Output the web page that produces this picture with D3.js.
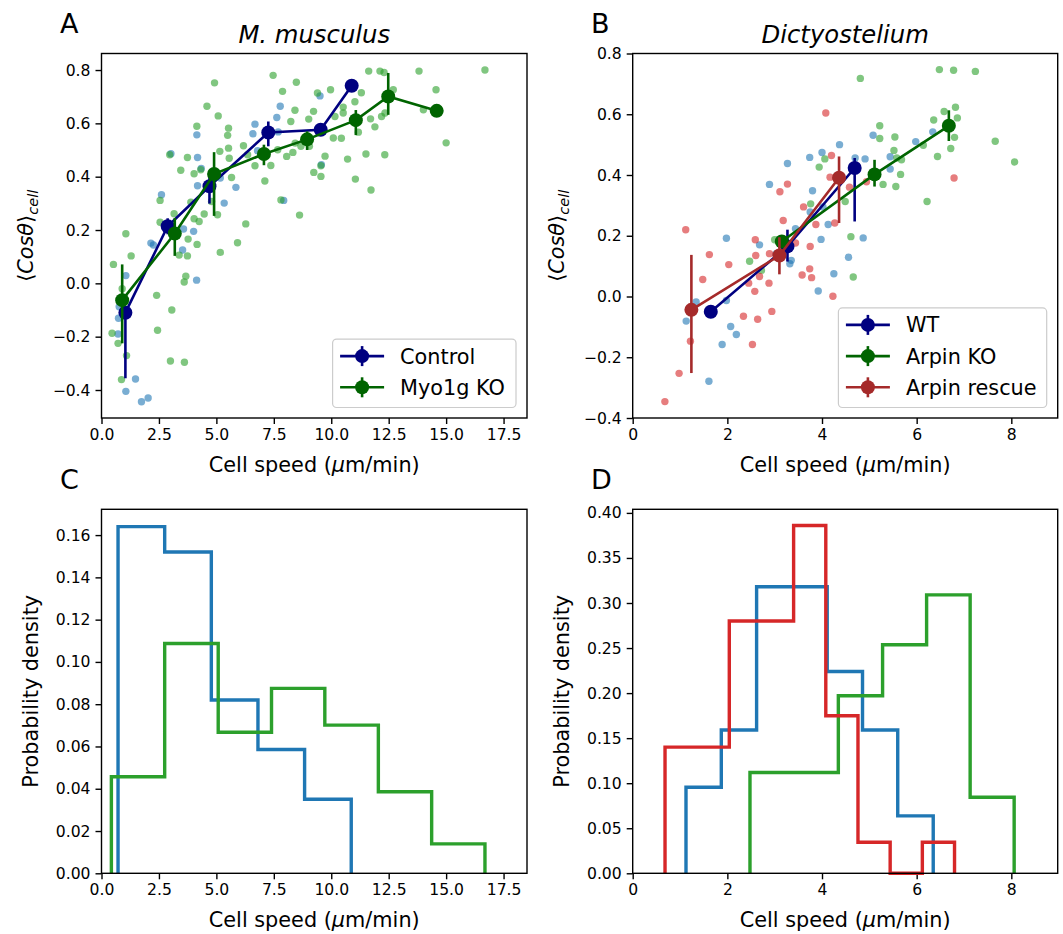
<!DOCTYPE html>
<html>
<head>
<meta charset="utf-8">
<script src="https://cdn.jsdelivr.net/npm/d3@7"></script>
<style>
  body { margin: 0; background: #fff; }
  text { font-family: "DejaVu Sans", sans-serif; fill: #000; }
</style>
</head>
<body>
<div id="fig"></div>
<script>
// ---- Panel A: M. musculus, single cells (speed, <cos theta>)
const controlCells = [
  [7.78,0.664],[7.63,0.622],[6.68,0.597],[6.59,0.561],[4.15,0.557],[3.02,0.486],[4.18,0.472],
  [4.34,0.431],[5.17,0.395],[4.18,0.366],[5.85,0.360],[2.61,0.332],[5.34,0.301],[7.93,0.311],
  [6.79,0.497],[3.57,0.204],[4.01,0.195],[2.15,0.151],[2.26,0.144],[3.53,0.125],[4.14,0.012],
  [1.06,0.029],[0.77,-0.088],[0.74,-0.131],[0.72,-0.190],[1.48,-0.359],[1.06,-0.405],
  [1.74,-0.444],[2.03,-0.430],[9.51,0.703],[9.57,0.445],[7.69,0.568]
];
const myo1gCells = [
  [7.47,0.780],[8.48,0.754],[4.92,0.752],[7.88,0.720],[4.59,0.664],[8.42,0.649],[5.08,0.628],
  [9.40,0.714],[4.15,0.589],[5.53,0.582],[5.49,0.555],[8.24,0.607],[9.02,0.616],[9.23,0.645],
  [6.18,0.516],[5.53,0.507],[5.15,0.495],[2.97,0.482],[3.74,0.472],[5.56,0.469],[6.36,0.482],
  [6.68,0.441],[7.37,0.442],[8.06,0.476],[8.33,0.491],[8.68,0.514],[8.43,0.526],[7.67,0.501],
  [9.24,0.416],[3.45,0.424],[4.03,0.411],[4.32,0.426],[5.66,0.397],[7.11,0.384],[2.55,0.311],
  [3.89,0.304],[4.79,0.307],[7.81,0.313],[5.05,0.257],[4.47,0.260],[4.03,0.242],[4.25,0.232],
  [3.16,0.261],[2.55,0.229],[6.28,0.223],[8.62,0.256],[1.06,0.186],[3.77,0.166],
  [11.63,0.796],[12.12,0.796],[12.30,0.791],[13.82,0.796],[16.69,0.800],[9.97,0.726],
  [11.31,0.715],[12.70,0.726],[14.56,0.726],[11.03,0.681],[10.52,0.661],[10.52,0.639],
  [10.16,0.626],[12.19,0.626],[11.71,0.617],[12.34,0.639],[11.90,0.587],[14.01,0.651],
  [10.09,0.545],[10.44,0.544],[11.18,0.567],[9.05,0.514],[15.00,0.527],[9.73,0.477],
  [11.51,0.485],[12.33,0.482],[10.71,0.466],[9.55,0.441],[9.55,0.401],[11.05,0.391],
  [11.73,0.350],[5.92,0.152],[5.17,0.116],[4.16,0.146],[3.38,0.106],[3.74,0.103],[1.29,0.103],
  [0.52,0.071],[3.67,0.027],[3.60,0.005],[2.40,-0.045],[3.06,-0.100],[0.90,-0.020],
  [0.46,-0.187],[0.72,-0.225],[2.44,-0.176],[1.09,-0.271],[3.00,-0.291],[3.61,-0.296],
  [0.87,-0.361]
];
// binned means with lower / upper error
const controlMeanSpeed = [1.04, 2.88, 4.70, 7.26, 9.54, 10.89];
const controlMeanCos   = [-0.110, 0.214, 0.364, 0.566, 0.576, 0.741];
const controlErrLo     = [0.246, 0.030, 0.065, 0.052, 0.020, 0.000];
const controlErrHi     = [0.020, 0.030, 0.050, 0.041, 0.020, 0.000];
const myo1gMeanSpeed = [0.90, 3.19, 4.90, 7.07, 8.95, 11.07, 12.48, 14.59];
const myo1gMeanCos   = [-0.063, 0.187, 0.410, 0.485, 0.540, 0.612, 0.701, 0.647];
const myo1gErrLo     = [0.162, 0.084, 0.157, 0.042, 0.040, 0.056, 0.069, 0.000];
const myo1gErrHi     = [0.134, 0.058, 0.082, 0.035, 0.030, 0.038, 0.088, 0.000];

// ---- Panel B: Dictyostelium
const wtCells = [
  [4.37,0.500],[3.74,0.458],[4.00,0.474],[3.27,0.438],[2.89,0.369],[3.80,0.348],[3.75,0.278],
  [4.02,0.295],[3.44,0.223],[4.13,0.237],[3.98,0.188],[1.98,0.192],[2.68,0.170],[3.03,0.140],
  [3.35,0.119],[3.32,0.108],[4.25,0.075],[3.92,0.018],[4.56,0.129],[1.34,-0.018],[1.98,-0.013],
  [1.13,-0.081],[2.07,-0.099],[2.19,-0.125],[1.89,-0.158],[1.61,-0.279],[5.08,0.531],
  [5.98,0.510],[6.34,0.542],[4.70,0.456],[4.91,0.453],[5.44,0.460],[5.44,0.420],[4.87,0.193]
];
const arpinKoCells = [
  [4.06,0.453],[3.94,0.426],[3.76,0.305],[3.00,0.187],[2.47,0.116],[2.72,0.086],[6.48,0.747],
  [6.78,0.745],[7.24,0.741],[4.81,0.718],[6.82,0.623],[6.58,0.609],[6.86,0.588],[6.36,0.581],
  [5.22,0.562],[5.22,0.520],[5.54,0.525],[6.80,0.524],[6.14,0.498],[6.72,0.487],[7.66,0.511],
  [8.07,0.443],[6.44,0.461],[5.52,0.481],[5.68,0.450],[5.58,0.456],[5.66,0.402],[5.29,0.369],
  [5.56,0.362],[6.22,0.313],[4.49,0.313],[4.61,0.197],[4.66,0.064]
];
const rescueCells = [
  [4.08,0.604],[4.20,0.464],[4.17,0.393],[3.27,0.370],[3.11,0.345],[3.61,0.295],[3.18,0.250],
  [3.87,0.237],[4.27,0.242],[3.44,0.176],[3.75,0.165],[2.59,0.187],[2.60,0.135],[2.89,0.141],
  [1.12,0.220],[1.62,0.138],[2.03,0.105],[1.48,0.056],[2.45,0.044],[2.68,0.066],[2.88,0.044],
  [2.58,0.017],[3.74,0.091],[3.58,0.071],[3.78,0.062],[4.23,0.001],[2.34,-0.065],[2.64,-0.075],
  [2.94,-0.049],[1.22,-0.147],[2.53,-0.158],[0.98,-0.253],[0.68,-0.346],[6.79,0.390],
  [4.94,0.378],[4.58,0.360]
];
const wtMeanSpeed = [1.65, 3.27, 4.69];
const wtMeanCos   = [-0.050, 0.165, 0.423];
const wtErrLo     = [0.000, 0.050, 0.176];
const wtErrHi     = [0.000, 0.055, 0.033];
const koMeanSpeed = [3.15, 5.11, 6.68];
const koMeanCos   = [0.181, 0.402, 0.562];
const koErrLo     = [0.000, 0.040, 0.050];
const koErrHi     = [0.000, 0.048, 0.051];
const rescueMeanSpeed = [1.24, 3.10, 4.36];
const rescueMeanCos   = [-0.044, 0.135, 0.391];
const rescueErrLo     = [0.208, 0.062, 0.149];
const rescueErrHi     = [0.181, 0.060, 0.070];

// ---- Panel C: speed histograms (bin edges, density)
const controlEdges   = [0.72, 2.75, 4.78, 6.81, 8.84, 10.87];
const controlDensity = [0.164, 0.152, 0.082, 0.0586, 0.035];
const myo1gEdges     = [0.43, 2.75, 5.08, 7.40, 9.72, 12.05, 14.37, 16.69];
const myo1gDensity   = [0.0457, 0.1087, 0.0667, 0.0875, 0.0701, 0.0386, 0.0139];

// ---- Panel D
const wtEdges       = [1.126, 1.872, 2.618, 3.364, 4.11, 4.856, 5.60, 6.35];
const wtDensity     = [0.0955, 0.159, 0.318, 0.318, 0.224, 0.159, 0.0637];
const koEdges       = [2.478, 3.41, 4.345, 5.28, 6.21, 7.13, 8.06];
const koDensity     = [0.1118, 0.1118, 0.197, 0.2537, 0.309, 0.0844];
const rescueEdges   = [0.683, 1.362, 2.041, 2.72, 3.40, 4.08, 4.76, 5.44, 6.12, 6.80];
const rescueDensity = [0.14, 0.14, 0.28, 0.28, 0.386, 0.1748, 0.0344, 0, 0.0344];

// ---- ticks
const ticksA_x = [0, 2.5, 5, 7.5, 10, 12.5, 15, 17.5];
const ticksB_x = [0, 2, 4, 6, 8];
const ticksCos = [-0.4, -0.2, 0, 0.2, 0.4, 0.6, 0.8];
const ticksC_y = [0, 0.02, 0.04, 0.06, 0.08, 0.10, 0.12, 0.14, 0.16];
const ticksD_y = [0, 0.05, 0.10, 0.15, 0.20, 0.25, 0.30, 0.35, 0.40];

// colours
const cBlue = "#1f77b4", cGreen = "#2ca02c", cRed = "#d62728";
const mNavy = "#000080", mGreen = "#006400", mBrown = "#a52a2a";

const W = 1063, H = 934;
const svg = d3.select("#fig").append("svg")
    .attr("width", W).attr("height", H)
    .attr("font-family", "DejaVu Sans");

const tickFont = 15.6, labelFont = 20.8;

// panel boxes
const left1 = 101.5, right1 = 527, left2 = 632.7, right2 = 1057.7;
const topRow1 = 53.5, bottomRow1 = 418, topRow2 = 509.3, bottomRow2 = 873.3;

const xA = d3.scaleLinear().domain([0, 18.52]).range([left1, right1]);
const yA = d3.scaleLinear().domain([-0.505, 0.862]).range([bottomRow1, topRow1]);
const xB = d3.scaleLinear().domain([0, 8.98]).range([left2, right2]);
const yB = d3.scaleLinear().domain([-0.4, 0.8]).range([bottomRow1, topRow1]);
const xC = d3.scaleLinear().domain([0, 18.52]).range([left1, right1]);
const yC = d3.scaleLinear().domain([0, 0.1722]).range([bottomRow2, topRow2]);
const xD = d3.scaleLinear().domain([0, 8.98]).range([left2, right2]);
const yD = d3.scaleLinear().domain([0, 0.404]).range([bottomRow2, topRow2]);

function drawAxes(x, y, xt, yt, fx, fy) {
  const [x0, x1] = x.range(), [y0, y1] = y.range();
  const gx = svg.append("g").attr("transform", `translate(0,${y0})`)
    .call(d3.axisBottom(x).tickValues(xt).tickFormat(fx).tickSize(6).tickPadding(5));
  const gy = svg.append("g").attr("transform", `translate(${x0},0)`)
    .call(d3.axisLeft(y).tickValues(yt).tickFormat(fy).tickSize(6).tickPadding(5));
  [gx, gy].forEach(g => {
    g.select(".domain").remove();
    g.selectAll(".tick line").attr("stroke", "#000").attr("stroke-width", 1.4);
    g.selectAll(".tick text").attr("font-size", tickFont).attr("font-family", "DejaVu Sans").attr("fill", "#000");
  });
  // frame drawn last via separate call
  return () => svg.append("rect")
    .attr("x", x0).attr("y", y1).attr("width", x1 - x0).attr("height", y0 - y1)
    .attr("fill", "none").attr("stroke", "#000").attr("stroke-width", 1.4);
}

function scatter(x, y, cells, color) {
  svg.append("g").selectAll("circle").data(cells).join("circle")
    .attr("cx", d => x(d[0])).attr("cy", d => y(d[1])).attr("r", 3.7)
    .attr("fill", color).attr("fill-opacity", 0.6);
}

function meanLine(x, y, sp, cs, lo, hi, color) {
  const g = svg.append("g");
  sp.forEach((s, i) => {
    if (lo[i] + hi[i] > 0) {
      g.append("line").attr("x1", x(s)).attr("x2", x(s))
        .attr("y1", y(cs[i] - lo[i])).attr("y2", y(cs[i] + hi[i]))
        .attr("stroke", color).attr("stroke-width", 2.6);
    }
  });
  const pts = sp.map((s, i) => [s, cs[i]]);
  g.append("path").datum(pts)
    .attr("d", d3.line().x(d => x(d[0])).y(d => y(d[1])))
    .attr("fill", "none").attr("stroke", color).attr("stroke-width", 2.6);
  g.selectAll("circle").data(pts).join("circle")
    .attr("cx", d => x(d[0])).attr("cy", d => y(d[1])).attr("r", 7)
    .attr("fill", color);
}

function stepHist(x, y, edges, dens, color) {
  const pts = [[edges[0], 0]];
  dens.forEach((h, i) => { pts.push([edges[i], h]); pts.push([edges[i + 1], h]); });
  pts.push([edges[edges.length - 1], 0]);
  svg.append("path").datum(pts)
    .attr("d", d3.line().x(d => x(d[0])).y(d => y(d[1])))
    .attr("fill", "none").attr("stroke", color).attr("stroke-width", 3.4)
    .attr("stroke-linejoin", "miter");
}

function legend(xr, yb, entries) {
  const w = xr === right1 ? 183.4 : 208.3;
  const rowH = 31.2;
  const h = entries.length * rowH + 6;
  const bx = xr - 11 - w, by = yb - 10.5 - h;
  svg.append("rect").attr("x", bx).attr("y", by).attr("width", w).attr("height", h)
    .attr("rx", 4).attr("fill", "#fff").attr("fill-opacity", 0.8)
    .attr("stroke", "#cccccc").attr("stroke-width", 1.2);
  entries.forEach((e, i) => {
    const cy = by + 17 + i * rowH;
    svg.append("line").attr("x1", bx + 7.5).attr("x2", bx + 51.5).attr("y1", cy).attr("y2", cy)
      .attr("stroke", e.color).attr("stroke-width", 2.6);
    svg.append("line").attr("x1", bx + 29.5).attr("x2", bx + 29.5).attr("y1", cy - 10).attr("y2", cy + 10)
      .attr("stroke", e.color).attr("stroke-width", 2.6);
    svg.append("circle").attr("cx", bx + 29.5).attr("cy", cy).attr("r", 7).attr("fill", e.color);
    svg.append("text").attr("x", bx + 67.5).attr("y", cy).attr("dy", "0.36em")
      .attr("font-size", labelFont).text(e.label);
  });
}

function xLabel(x, yBase) {
  const [x0, x1] = x.range();
  const t = svg.append("text").attr("x", (x0 + x1) / 2).attr("y", yBase)
    .attr("text-anchor", "middle").attr("font-size", labelFont);
  t.append("tspan").text("Cell speed (");
  t.append("tspan").attr("font-style", "italic").text("\u03bc");
  t.append("tspan").text("m/min)");
}

function cosLabel(xBase, y) {
  const [y0, y1] = y.range();
  const t = svg.append("text")
    .attr("transform", `translate(${xBase},${(y0 + y1) / 2}) rotate(-90)`)
    .attr("text-anchor", "middle").attr("font-size", labelFont);
  t.append("tspan").text("\u27e8");
  t.append("tspan").attr("font-style", "italic").text("Cos\u03b8");
  t.append("tspan").text("\u27e9");
  t.append("tspan").attr("font-style", "italic").attr("font-size", 14.6).attr("dy", 5).text("cell");
}

function densLabel(xBase, y) {
  const [y0, y1] = y.range();
  svg.append("text")
    .attr("transform", `translate(${xBase},${(y0 + y1) / 2}) rotate(-90)`)
    .attr("text-anchor", "middle").attr("font-size", labelFont).text("Probability density");
}

function title(x, txt) {
  const [x0, x1] = x.range();
  svg.append("text").attr("x", (x0 + x1) / 2).attr("y", 43)
    .attr("text-anchor", "middle").attr("font-size", 24.3).attr("font-style", "italic").text(txt);
}

function letter(xp, yp, txt) {
  svg.append("text").attr("x", xp).attr("y", yp).attr("font-size", 27).text(txt);
}

const f1 = d3.format(".1f"), f0 = d3.format("d"), f2 = d3.format(".2f");

// ---- A
let frame = drawAxes(xA, yA, ticksA_x, ticksCos, f1, f1);
scatter(xA, yA, controlCells, cBlue);
scatter(xA, yA, myo1gCells, cGreen);
meanLine(xA, yA, controlMeanSpeed, controlMeanCos, controlErrLo, controlErrHi, mNavy);
meanLine(xA, yA, myo1gMeanSpeed, myo1gMeanCos, myo1gErrLo, myo1gErrHi, mGreen);
frame();
legend(right1, bottomRow1, [{label: "Control", color: mNavy}, {label: "Myo1g KO", color: mGreen}]);
title(xA, "M. musculus");
xLabel(xA, 472);
cosLabel(33, yA);
letter(60, 32.7, "A");

// ---- B
frame = drawAxes(xB, yB, ticksB_x, ticksCos, f0, f1);
scatter(xB, yB, wtCells, cBlue);
scatter(xB, yB, arpinKoCells, cGreen);
scatter(xB, yB, rescueCells, cRed);
meanLine(xB, yB, wtMeanSpeed, wtMeanCos, wtErrLo, wtErrHi, mNavy);
meanLine(xB, yB, koMeanSpeed, koMeanCos, koErrLo, koErrHi, mGreen);
meanLine(xB, yB, rescueMeanSpeed, rescueMeanCos, rescueErrLo, rescueErrHi, mBrown);
frame();
legend(right2, bottomRow1, [{label: "WT", color: mNavy}, {label: "Arpin KO", color: mGreen},
  {label: "Arpin rescue", color: mBrown}]);
title(xB, "Dictyostelium");
xLabel(xB, 472);
cosLabel(564, yB);
letter(591, 32.7, "B");

// ---- C
frame = drawAxes(xC, yC, ticksA_x, ticksC_y, f1, f2);
stepHist(xC, yC, controlEdges, controlDensity, cBlue);
stepHist(xC, yC, myo1gEdges, myo1gDensity, cGreen);
frame();
xLabel(xC, 927);
densLabel(38, yC);
letter(60, 489, "C");

// ---- D
frame = drawAxes(xD, yD, ticksB_x, ticksD_y, f0, f2);
stepHist(xD, yD, wtEdges, wtDensity, cBlue);
stepHist(xD, yD, koEdges, koDensity, cGreen);
stepHist(xD, yD, rescueEdges, rescueDensity, cRed);
frame();
xLabel(xD, 927);
densLabel(569, yD);
letter(591, 489, "D");
</script>
</body>
</html>
